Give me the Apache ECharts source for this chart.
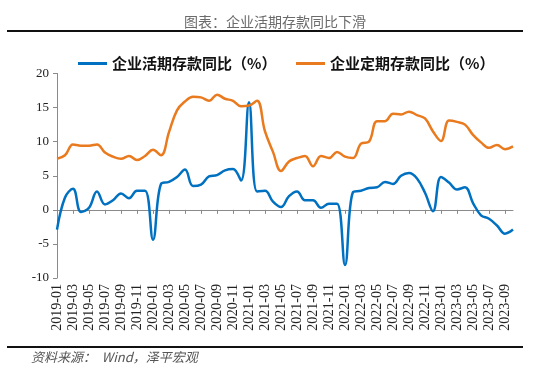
<!DOCTYPE html>
<html>
<head>
<meta charset="utf-8">
<script src="https://cdn.jsdelivr.net/npm/echarts@6/dist/echarts.min.js"></script>
<style>html,body{margin:0;padding:0;background:#fff}#c{width:550px;height:372px}</style>
</head>
<body>
<div id="c"></div>
<script>
const months = [
 '2019-01','2019-02','2019-03','2019-04','2019-05','2019-06','2019-07','2019-08','2019-09','2019-10','2019-11','2019-12',
 '2020-01','2020-02','2020-03','2020-04','2020-05','2020-06','2020-07','2020-08','2020-09','2020-10','2020-11','2020-12',
 '2021-01','2021-02','2021-03','2021-04','2021-05','2021-06','2021-07','2021-08','2021-09','2021-10','2021-11','2021-12',
 '2022-01','2022-02','2022-03','2022-04','2022-05','2022-06','2022-07','2022-08','2022-09','2022-10','2022-11','2022-12',
 '2023-01','2023-02','2023-03','2023-04','2023-05','2023-06','2023-07','2023-08','2023-09','2023-10'
];
const demandName = '企业活期存款同比（%）';
const timeName = '企业定期存款同比（%）';
const demandYoY = [
 -2.9, 1.8, 3.1, -0.3, 0.3, 2.7, 0.8, 1.4, 2.4, 1.7, 2.8, 2.8,
 -4.4, 3.8, 4.1, 4.8, 5.9, 3.5, 3.7, 4.9, 5.1, 5.8, 6.0, 4.3,
 15.8, 2.7, 2.8, 1.2, 0.4, 2.0, 2.7, 1.4, 1.4, 0.3, 0.9, 0.9,
 -8.1, 2.6, 2.8, 3.2, 3.3, 4.1, 3.8, 5.0, 5.4, 4.6, 2.5, -0.2,
 4.8, 4.0, 3.0, 3.3, 1.0, -0.8, -1.3, -2.3, -3.5, -2.9
];
const timeYoY = [
 7.5, 8.0, 9.6, 9.4, 9.4, 9.6, 8.4, 7.8, 7.5, 7.9, 7.3, 7.9,
 8.8, 8.0, 11.4, 14.6, 15.9, 16.6, 16.5, 16.0, 16.9, 16.3, 16.0, 15.2,
 15.3, 16.0, 11.5, 8.5, 5.7, 7.1, 7.6, 7.9, 6.4, 7.9, 7.6, 8.5,
 7.8, 7.6, 9.7, 10.0, 13.0, 13.0, 14.1, 14.0, 14.4, 13.9, 13.4, 11.5,
 10.1, 13.1, 12.9, 12.5, 11.0, 9.9, 9.1, 9.5, 8.9, 9.3
];
const yTicks = { min: -10, max: 20, interval: 5 };

const chart = echarts.init(document.getElementById('c'), null, { renderer: 'canvas' });
const serif = '"Liberation Serif", "Times New Roman", serif';
const cjk = '"Noto Sans CJK SC", sans-serif';
chart.setOption({
  animation: false,
  backgroundColor: '#ffffff',
  title: {
    text: '图表：企业活期存款同比下滑',
    left: 'center',
    top: 10,
    textStyle: { fontFamily: cjk, fontSize: 14, fontWeight: 'normal', color: '#6b6b6b' }
  },
  legend: [
    {
      data: [demandName], left: 73, top: 51, icon: 'rect', itemWidth: 29, itemHeight: 3, itemGap: 4,
      textStyle: { fontFamily: cjk, fontSize: 15, fontWeight: 'bold', color: '#111' }
    },
    {
      data: [timeName], left: 291, top: 51, icon: 'rect', itemWidth: 29, itemHeight: 3, itemGap: 4,
      textStyle: { fontFamily: cjk, fontSize: 15, fontWeight: 'bold', color: '#111' }
    }
  ],
  grid: { left: 57, right: 37, top: 73.5, bottom: 94, containLabel: false },
  xAxis: [
    {
      type: 'category', data: months, boundaryGap: false, position: 'top',
      axisLine: { show: true, onZero: true, lineStyle: { color: '#8a8a8a', width: 1 } },
      axisTick: { show: true, inside: true, interval: 1, length: 4, lineStyle: { color: '#8a8a8a' } },
      axisLabel: { show: false },
      splitLine: { show: false }
    },
    {
      type: 'category', data: months, boundaryGap: false, position: 'bottom',
      axisLine: { show: false, onZero: false },
      axisTick: { show: false },
      axisLabel: { show: true, interval: 1, rotate: 90, margin: 6, fontFamily: serif, fontSize: 14, color: '#222' },
      splitLine: { show: false }
    }
  ],
  yAxis: {
    type: 'value', min: yTicks.min, max: yTicks.max, interval: yTicks.interval,
    axisLine: { show: true, lineStyle: { color: '#8a8a8a', width: 1 } },
    axisTick: { show: true, length: 4, lineStyle: { color: '#8a8a8a' } },
    axisLabel: { margin: 8, fontFamily: serif, fontSize: 13, color: '#222' },
    splitLine: { show: false }
  },
  series: [
    {
      name: demandName, type: 'line', xAxisIndex: 0, data: demandYoY, smooth: 0.4, symbol: 'none',
      itemStyle: { color: '#0070C0' }, lineStyle: { color: '#0070C0', width: 2.5 }
    },
    {
      name: timeName, type: 'line', xAxisIndex: 0, data: timeYoY, smooth: 0.4, symbol: 'none',
      itemStyle: { color: '#E97A1E' }, lineStyle: { color: '#E97A1E', width: 2.5 }
    }
  ],
  graphic: [
    { type: 'rect', shape: { x: 7, y: 30, width: 516, height: 2 }, style: { fill: '#111' }, silent: true },
    { type: 'rect', shape: { x: 7, y: 346, width: 516, height: 2 }, style: { fill: '#111' }, silent: true },
    {
      type: 'text', x: 31, y: 351,
      style: { text: '资料来源：  Wind，泽平宏观', fontFamily: cjk, fontSize: 13, fontStyle: 'italic', fill: '#555' },
      silent: true
    }
  ]
});
</script>
</body>
</html>
